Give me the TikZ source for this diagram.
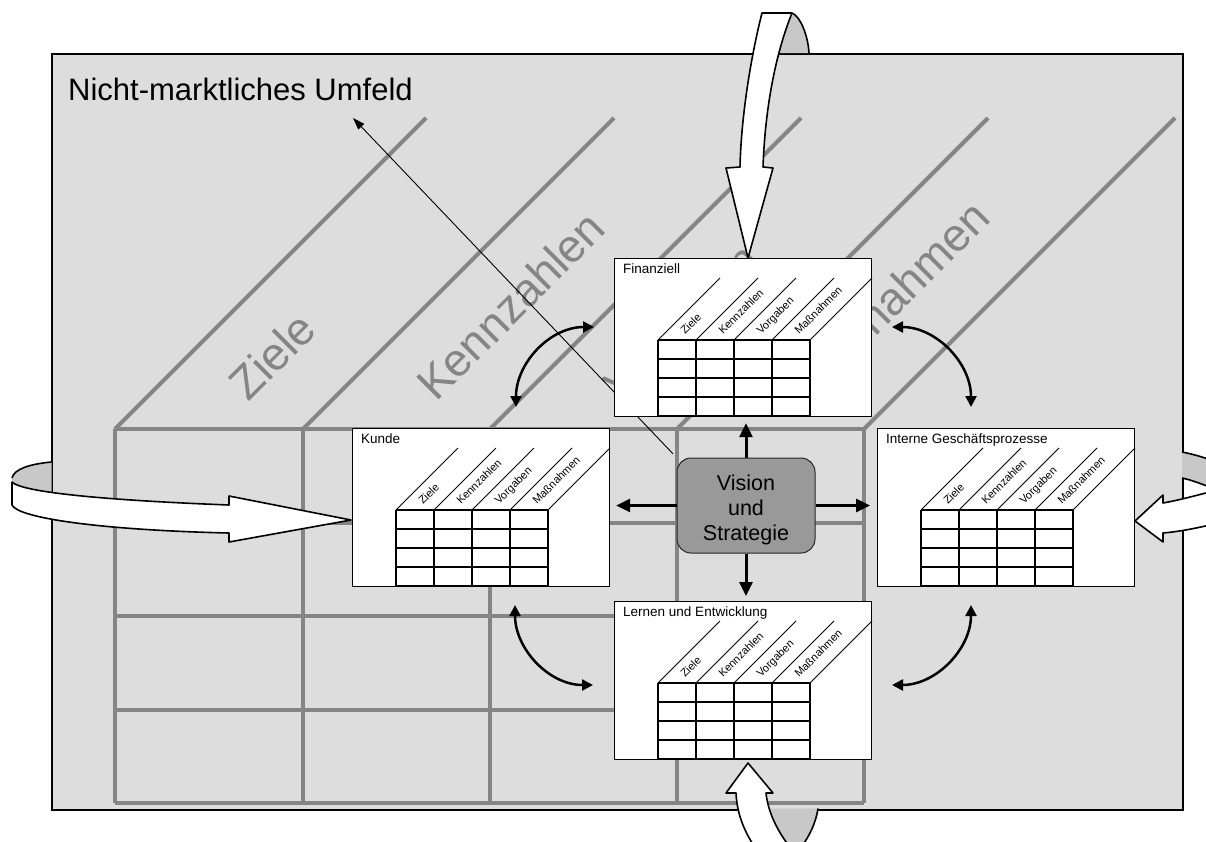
\documentclass[tikz,border=0pt]{standalone}
\usepackage{fontspec}
\setmainfont{Liberation Sans}
\usetikzlibrary{arrows.meta}
\definecolor{framegray}{HTML}{DDDDDD}
\definecolor{gridgray}{HTML}{858585}
\definecolor{backgray}{HTML}{C8C8C8}
\definecolor{visiongray}{HTML}{999999}
\tikzset{
  gridline/.style={draw=gridgray, line width=4pt},
  bigtext/.style={text=gridgray, font=\fontsize{46}{50}\selectfont, rotate=45, anchor=base west, inner sep=0pt},
  panel/.style={draw=black, fill=white, line width=1.2pt, minimum width=257pt, minimum height=158pt, inner sep=0pt, anchor=north west},
  paneltitle/.style={font=\fontsize{13.5}{15}\selectfont, anchor=base west, inner sep=0pt},
  tabline/.style={line width=1.5pt},
  diagline/.style={line width=0.9pt},
  collabel/.style={font=\fontsize{11}{12}\selectfont, rotate=45, anchor=base west, inner sep=0pt},
  ribbon/.style={draw=black, line width=1.6pt, fill=white, line join=round},
  ribbonedge/.style={draw=black, line width=1.6pt},
  curvearrow/.style={line width=2.5pt, {Triangle[length=11pt,width=11pt]}-{Triangle[length=11pt,width=11pt]}},
  visionarrow/.style={line width=3pt, -{Triangle[length=14pt,width=13pt]}},
  envarrow/.style={line width=0.9pt, -{Triangle[length=12pt,width=8pt]}},
}
\newcommand{\bscpanel}[4]{%
  \node[panel] (#1) at (#2,#3) {};
  \begin{scope}[shift={(#1.north west)}]
    \node[paneltitle] (#1-title) at (9,15) {#4};
    \foreach \k in {0,1,2,3,4}{
      \draw[diagline] (44+38*\k,82) -- (106+38*\k,20);
      \draw[tabline] (44+38*\k,82) -- (44+38*\k,158);
    }
    \foreach \r in {0,1,2,3,4}{
      \draw[tabline] (44,82+19*\r) -- (196,82+19*\r);
    }
    \foreach \k/\t in {0/Ziele,1/Kennzahlen,2/Vorgaben,3/Maßnahmen}{
      \node[collabel] (#1-l\k) at (71+38*\k,77) {\t};
    }
  \end{scope}
}
\begin{document}
\begin{tikzpicture}[x=1pt,y=-1pt]
\useasboundingbox (0,0) rectangle (1206,841);
\clip (0,0) rectangle (1206,841);
% frame
\node[draw=black, fill=framegray, line width=1.5pt, minimum width=1131pt, minimum height=756pt, anchor=north west, inner sep=0pt] (frame) at (51,53) {};
% back parts of the ribbons
\fill[backgray] (792,13) .. controls (800,16) and (808,35) .. (809,53) -- (768,53) -- cycle;
\draw[ribbonedge] (792,13) .. controls (800,16) and (808,35) .. (809,53);
\fill[backgray] (12,484) -- (12,478) .. controls (14,469) and (30,464) .. (51.5,462) -- (51.5,495) -- cycle;
\draw[ribbonedge] (12,478) .. controls (14,469) and (30,464) .. (51.5,462);
\fill[backgray] (1182,452) .. controls (1192,454) and (1204,457) .. (1215,462) -- (1215,489) .. controls (1204,485) and (1192,480) .. (1182,478) -- cycle;
\draw[ribbonedge] (1182,452) .. controls (1192,454) and (1204,457) .. (1215,462);
\draw[ribbonedge] (1215,489) .. controls (1204,485) and (1192,480) .. (1182,478);
\fill[backgray] (768,808.5) -- (818,808.5) .. controls (816,822) and (810,835) .. (802,846) -- (780,846) -- cycle;
\draw[ribbonedge] (818,808.5) .. controls (816,822) and (810,835) .. (802,846);
% grey block
\foreach \x in {115,303,490,677,864}{
  \draw[gridline] (\x,429) -- (\x,803);
  \draw[gridline] (\x,429) -- (\x+311,118);
}
\foreach \y in {429,523,616,710,803}{
  \draw[gridline] (115,\y) -- (864,\y);
}
\node[bigtext] (bt1) at (248,403) {Ziele};
\node[bigtext] (bt2) at (436,403) {Kennzahlen};
\node[bigtext] (bt3) at (623,403) {Vorgaben};
\node[bigtext] (bt4) at (810,403) {Maßnahmen};
\node[anchor=base west, inner sep=0pt, font=\fontsize{31}{36}\selectfont] (env) at (68,100) {Nicht-marktliches Umfeld};
% vision
\node[draw=black!85, fill=visiongray, rounded corners=14pt, minimum width=138pt, minimum height=95pt, line width=1pt, inner sep=0pt] (vision) at (746,505.5) {};
\node[align=center, font=\fontsize{21.5}{25}\selectfont, inner sep=0pt] (visiontext) at (746,510) {Vision\\und\\Strategie};
\coordinate (envtip) at (353,118);
\draw[envarrow, shorten <=5pt] (vision.north west) -- (envtip);
% panels
\bscpanel{fin}{614}{258}{Finanziell}
\bscpanel{kunde}{352}{428}{Kunde}
\bscpanel{intern}{877}{428}{Interne Geschäftsprozesse}
\bscpanel{lern}{614}{601}{Lernen und Entwicklung}
% vision arrows
\draw[visionarrow, shorten >=6pt] (vision.north) -- (vision.north |- fin.south);
\draw[visionarrow, shorten >=5pt] (vision.south) -- (vision.south |- lern.north);
\draw[visionarrow, shorten >=6pt] (vision.west) -- (vision.west -| kunde.east);
\draw[visionarrow, shorten >=7pt] (vision.east) -- (vision.east -| intern.west);
% curved arrows
\coordinate (ulA) at (516,407); \coordinate (ulB) at (594,327);
\coordinate (urA) at (892,327); \coordinate (urB) at (971,407);
\coordinate (llA) at (515,605); \coordinate (llB) at (593,685);
\coordinate (lrA) at (971,605); \coordinate (lrB) at (892,685);
\draw[curvearrow] (ulA) .. controls (516,363) and (550,327) .. (ulB);
\draw[curvearrow] (urA) .. controls (936,327) and (971,363) .. (urB);
\draw[curvearrow] (llA) .. controls (515,649) and (549,685) .. (llB);
\draw[curvearrow] (lrA) .. controls (971,649) and (936,685) .. (lrB);
% front parts of the ribbons
\draw[ribbon] (762,13) .. controls (750,60) and (741,120) .. (740,167) -- (726,168) -- (748,258) -- (773,168) -- (763,167) .. controls (765,110) and (775,55) .. (792,13) -- cycle;
\draw[ribbon] (229,505) .. controls (100,500) and (22,492) .. (12,482) -- (12,505) .. controls (18,518) and (100,530) .. (229,533) -- (229,542) -- (351,520) -- (229,496) -- cycle;
\draw[ribbon] (1215,491) .. controls (1200,494) and (1185,499) .. (1163,503) -- (1163,495) -- (1135,521) -- (1163,542) -- (1163,533) .. controls (1185,531) and (1200,527) .. (1215,524) -- cycle;
\draw[ribbon] (736,793) .. controls (737,815) and (745,832) .. (754,846) -- (789,846) .. controls (777,830) and (768,812) .. (766,793) -- (773,793) -- (748,763) -- (726,793) -- cycle;
\end{tikzpicture}
\end{document}
